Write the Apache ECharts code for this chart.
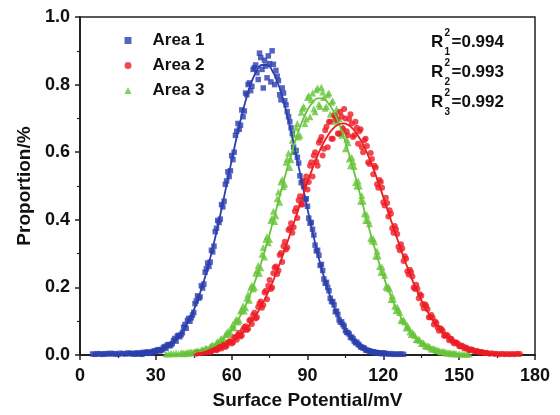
<!DOCTYPE html>
<html>
<head>
<meta charset="utf-8">
<script src="https://cdn.jsdelivr.net/npm/echarts@6/dist/echarts.min.js"></script>
<style>
html,body{margin:0;padding:0;background:#fff;}
#chart{width:560px;height:415px;}
</style>
</head>
<body>
<div id="chart"></div>
<script>
// ---- data ----
const seriesNames = ['Area 1', 'Area 2', 'Area 3'];
const rSquaredLabels = ['0.994', '0.993', '0.992'];
const xTickValues = [0, 30, 60, 90, 120, 150, 180];
const yTickValues = [0.0, 0.2, 0.4, 0.6, 0.8, 1.0];

// measured points on whole mV: first x (mV), step 1 mV
const area1Start = 5;
const area1Values = [
  0.003,0.002,0.004,0.003,0.002,0.004,0.003,0.005,0.003,0.004,0.002,0.005,0.004,0.003,0.006,0.004,0.005,0.003,
  0.006,0.004,0.008,0.006,0.009,0.007,0.011,0.010,
  0.016,0.014,0.022,0.020,0.031,0.030,0.043,0.041,0.058,0.060,
  0.082,0.079,0.108,0.110,0.126,0.160,0.168,0.205,0.210,0.255,
  0.262,0.310,0.322,0.375,0.392,0.445,0.455,0.515,0.528,0.590,
  0.600,0.662,0.668,0.725,0.722,0.770,0.805,0.795,0.850,0.835,
  0.893,0.845,0.872,0.820,0.862,0.900,0.800,0.825,0.770,0.790,
  0.752,0.720,0.690,0.655,0.600,0.585,0.530,0.515,0.460,0.440,
  0.390,0.372,0.325,0.310,0.265,0.250,0.212,0.200,0.168,0.158,
  0.128,0.120,0.097,0.090,0.072,0.066,0.052,0.048,0.036,0.032,
  0.024,0.021,0.015,0.013,0.010,0.009,0.007,0.006,0.005,0.006,
  0.004,0.003,0.004,0.002,0.003,0.002,0.003,0.002
];
const area2Start = 46;
const area2Values = [
  0.004,0.006,0.005,0.009,0.007,0.013,0.011,0.016,0.014,0.022,
  0.019,0.030,0.027,0.040,0.034,0.052,0.045,0.066,0.058,0.082,
  0.074,0.102,0.092,0.125,0.112,0.152,0.140,0.185,0.165,0.222,
  0.200,0.258,0.240,0.296,0.275,0.335,0.318,0.375,0.362,0.425,
  0.405,0.470,0.445,0.515,0.490,0.560,0.528,0.600,0.560,0.635,
  0.590,0.665,0.615,0.690,0.640,0.705,0.655,0.720,0.670,0.700,
  0.650,0.712,0.645,0.690,0.625,0.668,0.600,0.640,0.570,0.598,
  0.535,0.555,0.495,0.512,0.452,0.465,0.410,0.418,0.362,0.372,
  0.320,0.328,0.278,0.285,0.238,0.245,0.200,0.208,0.168,0.175,
  0.138,0.145,0.112,0.118,0.090,0.095,0.072,0.076,0.057,0.060,
  0.044,0.047,0.034,0.036,0.026,0.028,0.019,0.021,0.014,0.016,
  0.011,0.012,0.008,0.009,0.006,0.007,0.004,0.005,0.003,0.004,
  0.002,0.004,0.002,0.003,0.002,0.003,0.002,0.004,0.003
];
const area3Start = 34;
const area3Values = [
  0.004,0.003,0.005,0.004,0.006,0.004,0.006,0.005,0.007,0.006,
  0.009,0.008,0.011,0.010,0.015,0.013,0.020,0.018,0.027,0.025,
  0.036,0.034,0.049,0.046,0.064,0.061,0.083,0.080,0.106,0.103,
  0.134,0.130,0.168,0.162,0.206,0.200,0.250,0.242,0.298,0.290,
  0.350,0.342,0.405,0.395,0.462,0.452,0.520,0.505,0.580,0.555,
  0.635,0.610,0.685,0.650,0.730,0.685,0.762,0.705,0.775,0.720,
  0.790,0.735,0.778,0.730,0.770,0.712,0.752,0.690,0.720,0.655,
  0.675,0.610,0.628,0.560,0.572,0.510,0.515,0.455,0.455,0.398,
  0.398,0.345,0.345,0.292,0.293,0.245,0.245,0.202,0.203,0.164,
  0.165,0.131,0.133,0.103,0.104,0.080,0.081,0.061,0.062,0.046,
  0.047,0.034,0.035,0.025,0.026,0.018,0.019,0.013,0.013,0.009,
  0.010,0.006,0.007,0.004,0.005,0.003,0.004,0.002,0.003,0.002,0.003
];

// measured points on half mV: first x (mV), step 1 mV
const area1HalfStart = 20.5;
const area1HalfValues = [
  0.004,0.003,0.005,0.004,0.002,0.006,0.008,0.005,0.006,0.012,
  0.014,0.012,0.016,0.025,0.029,0.027,0.034,0.049,0.056,0.054,
  0.066,0.090,0.102,0.100,0.118,0.152,0.175,0.172,0.198,0.245,
  0.272,0.275,0.305,0.365,0.398,0.402,0.438,0.505,0.542,0.545,
  0.578,0.650,0.685,0.680,0.705,0.775,0.800,0.782,0.845,0.858,
  0.815,0.880,0.790,0.855,0.885,0.808,0.860,0.842,0.812,0.755,
  0.775,0.740,0.705,0.672,0.615,0.605,0.568,0.510,0.498,0.462,
  0.405,0.392,0.355,0.308,0.295,0.268,0.225,0.215,0.190,0.158,
  0.148,0.130,0.104,0.098,0.085,0.067,0.062,0.053,0.041,0.038,
  0.029,0.023,0.020,0.014,0.012,0.010,0.008,0.007,0.005,0.004,
  0.005
];
const area2HalfStart = 50.5;
const area2HalfValues = [
  0.011,0.009,0.015,0.018,0.016,0.024,0.028,0.024,0.036,0.041,
  0.037,0.053,0.060,0.055,0.075,0.085,0.078,0.105,0.118,0.108,
  0.142,0.158,0.148,0.190,0.205,0.195,0.242,0.262,0.250,0.302,
  0.322,0.312,0.370,0.390,0.378,0.435,0.458,0.445,0.500,0.528,
  0.512,0.570,0.590,0.572,0.628,0.645,0.610,0.675,0.690,0.640,
  0.710,0.695,0.655,0.705,0.728,0.662,0.698,0.685,0.650,0.672,
  0.662,0.615,0.635,0.618,0.565,0.580,0.560,0.505,0.518,0.495,
  0.442,0.450,0.428,0.375,0.382,0.358,0.310,0.315,0.292,0.248,
  0.252,0.232,0.195,0.196,0.180,0.150,0.150,0.135,0.112,0.110,
  0.099,0.081,0.079,0.071,0.057,0.056,0.049,0.039,0.038,0.033,
  0.026,0.025,0.022,0.017,0.016,0.014,0.011,0.010,0.009,0.007,
  0.006
];
const area3HalfStart = 40.5;
const area3HalfValues = [
  0.005,0.004,0.007,0.008,0.006,0.010,0.012,0.010,0.016,0.019,
  0.017,0.025,0.030,0.028,0.040,0.046,0.044,0.061,0.070,0.067,
  0.090,0.102,0.098,0.130,0.146,0.140,0.180,0.200,0.195,0.242,
  0.265,0.258,0.318,0.342,0.332,0.398,0.425,0.412,0.482,0.512,
  0.498,0.570,0.598,0.578,0.652,0.672,0.645,0.718,0.735,0.698,
  0.768,0.755,0.728,0.785,0.742,0.792,0.762,0.735,0.775,0.748,
  0.700,0.728,0.700,0.650,0.662,0.638,0.580,0.585,0.558,0.500,
  0.500,0.472,0.418,0.415,0.388,0.338,0.335,0.308,0.262,0.260,
  0.236,0.198,0.195,0.176,0.144,0.142,0.126,0.101,0.098,0.087,
  0.069,0.067,0.058,0.045,0.043,0.037,0.029,0.027,0.023,0.018,
  0.016,0.014,0.010,0.010,0.008,0.006,0.006,0.005,0.004
];

// fitted curves: first x (mV), step 2 mV
const fitStep = 2;
const area1FitStart = 4;
const area1Fit = [
  0.0000,0.0000,0.0000,0.0001,0.0001,0.0002,0.0004,0.0006,0.0011,0.0018,
  0.0028,0.0045,0.0070,0.0106,0.0158,0.0231,0.0332,0.0467,0.0645,0.0875,
  0.116,0.152,0.195,0.244,0.301,0.364,0.432,0.504,0.575,0.645,
  0.709,0.765,0.810,0.842,0.858,0.858,0.842,0.810,0.765,0.709,
  0.645,0.575,0.504,0.432,0.364,0.301,0.244,0.195,0.152,0.116,
  0.0875,0.0645,0.0467,0.0332,0.0231,0.0158,0.0106,0.0070,0.0045,0.0028,
  0.0018,0.0011,0.0006
];
const area2FitStart = 46;
const area2Fit = [
  0.0045,0.0063,0.0088,0.0121,0.0164,0.0220,0.0291,0.0381,0.0492,0.0628,
  0.0793,0.0989,0.122,0.149,0.179,0.212,0.250,0.290,0.333,0.377,
  0.422,0.467,0.511,0.552,0.590,0.623,0.649,0.669,0.681,0.685,
  0.681,0.669,0.649,0.623,0.590,0.552,0.511,0.467,0.422,0.377,
  0.333,0.290,0.250,0.212,0.179,0.149,0.122,0.0989,0.0793,0.0628,
  0.0492,0.0381,0.0291,0.0220,0.0164,0.0121,0.0088,0.0063,0.0045,0.0032,
  0.0022,0.0015,0.0010,0.0007,0.0005
];
const area3FitStart = 34;
const area3Fit = [
  0.0007,0.0011,0.0017,0.0026,0.0039,0.0057,0.0083,0.0119,0.0168,0.0234,
  0.0321,0.0434,0.0578,0.0758,0.0979,0.125,0.156,0.193,0.234,0.281,
  0.331,0.385,0.441,0.498,0.553,0.605,0.653,0.693,0.725,0.747,
  0.759,0.759,0.747,0.725,0.693,0.653,0.605,0.553,0.498,0.441,
  0.385,0.331,0.281,0.234,0.193,0.156,0.125,0.0979,0.0758,0.0578,
  0.0434,0.0321,0.0234,0.0168,0.0119,0.0083,0.0057,0.0039,0.0026,0.0017,
  0.0011
];

// ---- build ----
const colors = ['#2b3fae', '#ec1c24', '#66c43a'];
const symbols = ['rect', 'circle', 'triangle'];
const symbolSizes = [5.5, 6, 7];
const FONT = '"Liberation Sans", Arial, sans-serif';

function pairs(start, step, vals) { return vals.map((v, i) => [start + i * step, v]); }
const pointSets = [
  pairs(area1Start, 1, area1Values).concat(pairs(area1HalfStart, 1, area1HalfValues)),
  pairs(area2Start, 1, area2Values).concat(pairs(area2HalfStart, 1, area2HalfValues)),
  pairs(area3Start, 1, area3Values).concat(pairs(area3HalfStart, 1, area3HalfValues))
];
const fitSets = [
  pairs(area1FitStart, fitStep, area1Fit),
  pairs(area2FitStart, fitStep, area2Fit),
  pairs(area3FitStart, fitStep, area3Fit)
];

const series = [];
[0, 2, 1].forEach(i => {
  series.push({
    name: seriesNames[i], type: 'scatter', data: pointSets[i],
    symbol: symbols[i], symbolSize: symbolSizes[i],
    itemStyle: { color: colors[i] }, z: 2, silent: true, large: false
  });
});
[0, 2, 1].forEach(i => {
  series.push({
    name: seriesNames[i] + ' fit', type: 'line', data: fitSets[i],
    smooth: true, showSymbol: false, symbol: 'none',
    lineStyle: { color: colors[i], width: 1.8 }, itemStyle: { color: colors[i] },
    z: 3, silent: true
  });
});

const graphics = [];
const rowY = [42.5, 72.5, 102.5];
rSquaredLabels.forEach((lab, i) => {
  const y = rowY[i];
  graphics.push({ type: 'text', x: 431, y: y, style: { text: 'R', font: 'bold 17px ' + FONT, fill: '#111', textVerticalAlign: 'middle' } });
  graphics.push({ type: 'text', x: 444.5, y: y - 9.5, style: { text: '2', font: 'bold 10px ' + FONT, fill: '#111', textVerticalAlign: 'middle' } });
  graphics.push({ type: 'text', x: 444.5, y: y + 10, style: { text: String(i + 1), font: 'bold 10px ' + FONT, fill: '#111', textVerticalAlign: 'middle' } });
  graphics.push({ type: 'text', x: 451.5, y: y, style: { text: '=' + lab, font: 'bold 17px ' + FONT, fill: '#111', textVerticalAlign: 'middle' } });
});

const chart = echarts.init(document.getElementById('chart'), null, { renderer: 'canvas' });
chart.setOption({
  animation: false,
  backgroundColor: '#fff',
  textStyle: { fontFamily: FONT },
  grid: { left: 80, right: 25, top: 17, bottom: 58, show: true, borderColor: '#222', borderWidth: 1.5, backgroundColor: 'transparent' },
  legend: {
    data: seriesNames.map((n, i) => ({ name: n, icon: symbols[i] })),
    orient: 'vertical', left: 119.5, top: 27,
    itemWidth: 7, itemHeight: 7, itemGap: 8, symbolKeepAspect: true,
    textStyle: { fontFamily: FONT, fontWeight: 'bold', fontSize: 17, color: '#111', padding: [0, 0, 0, 16] },
    selectedMode: false
  },
  xAxis: {
    type: 'value', min: xTickValues[0], max: xTickValues[xTickValues.length - 1],
    interval: xTickValues[1] - xTickValues[0],
    name: 'Surface Potential/mV', nameLocation: 'middle', nameGap: 36,
    nameTextStyle: { fontFamily: FONT, fontWeight: 'bold', fontSize: 19, color: '#111' },
    axisLine: { show: true, onZero: false, lineStyle: { color: '#222', width: 2 } },
    axisTick: { show: true, inside: false, length: 5, lineStyle: { color: '#222', width: 1.5 } },
    minorTick: { show: true, splitNumber: 2, length: 3, lineStyle: { color: '#222', width: 1.2 } },
    splitLine: { show: false },
    axisLabel: { margin: 12, fontFamily: FONT, fontWeight: 'bold', fontSize: 18, color: '#111' }
  },
  yAxis: {
    type: 'value', min: yTickValues[0], max: yTickValues[yTickValues.length - 1],
    interval: 0.2,
    name: 'Proportion/%', nameLocation: 'middle', nameGap: 45,
    nameTextStyle: { fontFamily: FONT, fontWeight: 'bold', fontSize: 19, color: '#111' },
    axisLine: { show: true, onZero: false, lineStyle: { color: '#222', width: 2 } },
    axisTick: { show: true, inside: false, length: 5, lineStyle: { color: '#222', width: 1.5 } },
    minorTick: { show: true, splitNumber: 2, length: 3, lineStyle: { color: '#222', width: 1.2 } },
    splitLine: { show: false },
    axisLabel: { margin: 10, fontFamily: FONT, fontWeight: 'bold', fontSize: 18, color: '#111',
      formatter: v => v.toFixed(1) }
  },
  graphic: graphics,
  series: series
});
</script>
</body>
</html>
